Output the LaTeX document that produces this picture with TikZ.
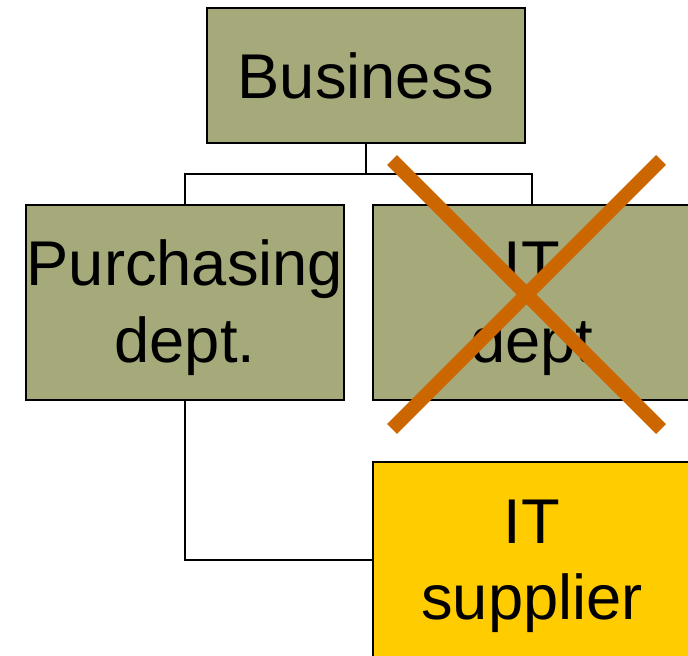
\documentclass[tikz,border=0pt]{standalone}
\usepackage{fontspec}
\setmainfont{Liberation Sans}
\usepackage{tikz}
\usetikzlibrary{calc}

\definecolor{olivebox}{HTML}{A6A979}
\definecolor{supplierbox}{HTML}{FFCC00}
\definecolor{strikeorange}{HTML}{CC6600}

\newcommand{\tallstrut}{\rule{0pt}{32pt}}

\tikzset{
  orgbox/.style={draw=black, line width=1.1pt, fill=olivebox, minimum width=6.36cm,
    minimum height=3.9cm, align=center, inner sep=0pt,
    font=\fontsize{36}{43.7}\selectfont},
  link/.style={draw=black, line width=1.1pt},
  strike/.style={draw=strikeorange, line width=8pt}
}

\begin{document}
\begin{tikzpicture}[x=0.02cm, y=-0.02cm]
            \useasboundingbox (0,0) rectangle (688,655);
            \clip (0,0) rectangle (688,655);
            % boxes
            \node[orgbox, minimum height=2.7cm] (biz) at (366,75.5) {Business};
            \node[orgbox] (purch) at (185,302.5) {\tallstrut Purchasing\\dept.};
            \node[orgbox] (itdept) at (532,302.5) {\tallstrut IT\\dept};
            \node[orgbox, fill=supplierbox, minimum height=3.92cm] (supplier) at (532,560) {\tallstrut IT\\supplier};
            % connectors
            \coordinate (split) at (366,174);
            \draw[link] (biz.south) -- (split);
            \draw[link] (purch.north) |- (split) -| (itdept.north);
            \draw[link] (purch.south) |- (supplier.west);
            % crossed out
            \coordinate (xa) at (392,160);
            \coordinate (xb) at (661,429);
            \coordinate (xc) at (661,160);
            \coordinate (xd) at (392,429);
            \draw[strike] (xa) -- (xb);
            \draw[strike] (xc) -- (xd);
        \end{tikzpicture}
\end{document}
